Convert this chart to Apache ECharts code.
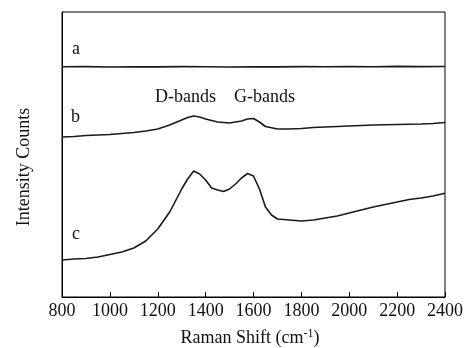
<!DOCTYPE html>
<html>
<head>
<meta charset="utf-8">
<script src="https://cdn.jsdelivr.net/npm/echarts@6/dist/echarts.min.js"></script>
<style>html,body{margin:0;padding:0;background:#fff}#c{width:466px;height:348px}</style>
</head>
<body>
<div id="c"></div>
<script>
// Raman shift (cm-1)
const xTicks = [800, 1000, 1200, 1400, 1600, 1800, 2000, 2200, 2400];
// Curve a (nearly flat)
const shiftA = [800, 900, 1000, 1100, 1200, 1300, 1400, 1500, 1600, 1700, 1800, 1900, 2000, 2100, 2200, 2300, 2400];
const intA   = [230.2, 230.4, 230.0, 230.3, 230.1, 230.4, 230.2, 230.0, 230.3, 230.1, 230.4, 230.2, 230.5, 230.3, 230.6, 230.4, 230.5];
// Curve b
const shiftB = [800, 850, 900, 950, 1000, 1050, 1100, 1150, 1200, 1250, 1300, 1325, 1350, 1375, 1400, 1450, 1500, 1550, 1575, 1600, 1625, 1650, 1700, 1750, 1800, 1850, 1900, 1950, 2000, 2100, 2200, 2300, 2350, 2400];
const intB   = [160, 160.5, 161.5, 162, 162.5, 163.5, 164.5, 166, 168, 172, 177, 179.5, 181, 180, 178, 175, 174, 176, 178, 178.5, 175, 170.5, 168, 168, 168.5, 169.5, 170, 170.5, 171, 172, 172.5, 173, 173.5, 174.5];
// Curve c
const shiftC = [800, 850, 900, 950, 1000, 1050, 1100, 1150, 1200, 1250, 1300, 1325, 1350, 1375, 1400, 1425, 1450, 1475, 1500, 1525, 1550, 1575, 1600, 1625, 1650, 1675, 1700, 1750, 1800, 1850, 1900, 1950, 2000, 2050, 2100, 2150, 2200, 2250, 2300, 2350, 2400];
const intC   = [37, 38, 38.5, 40, 42.5, 45, 49, 56, 68, 85, 108, 118, 126, 123, 117, 109, 107, 105.5, 108, 113, 119, 123.5, 121, 108, 90, 82, 78, 77, 76, 77, 79, 81, 84, 87, 90, 92.5, 95, 97.5, 99, 101, 103.7];

const pairs = (xs, ys) => xs.map((x, i) => [x, ys[i]]);
const FONT = '"Liberation Serif", "DejaVu Serif", serif';
const lineStyle = { color: '#1a1a1a', width: 1.6 };
const mk = (name, xs, ys) => ({ name, type: 'line', data: pairs(xs, ys), showSymbol: false, symbol: 'none', lineStyle, animation: false, silent: true });

const chart = echarts.init(document.getElementById('c'));
chart.setOption({
  animation: false,
  grid: { left: 62, top: 12, right: 20, bottom: 51, show: true, borderColor: '#000', borderWidth: 1, backgroundColor: 'transparent' },
  xAxis: {
    type: 'value', min: xTicks[0], max: xTicks[xTicks.length - 1], interval: 200,
    axisLine: { show: true, lineStyle: { color: '#000', width: 1 } },
    axisTick: { show: true, inside: true, length: 5, lineStyle: { color: '#000' } },
    axisLabel: { color: '#111', fontFamily: FONT, fontSize: 18, margin: 5, formatter: v => String(v) },
    splitLine: { show: false }
  },
  yAxis: {
    type: 'value', min: 0, max: 285,
    axisLine: { show: true, lineStyle: { color: '#000' } },
    axisTick: { show: false }, axisLabel: { show: false }, splitLine: { show: false }
  },
  series: [mk('a', shiftA, intA), mk('b', shiftB, intB), mk('c', shiftC, intC)],
  graphic: [
    { type: 'text', left: 72, top: 40, style: { text: 'a', font: '18px ' + FONT, fill: '#111' } },
    { type: 'text', left: 71, top: 108, style: { text: 'b', font: '18px ' + FONT, fill: '#111' } },
    { type: 'text', left: 72, top: 225, style: { text: 'c', font: '18px ' + FONT, fill: '#111' } },
    { type: 'text', left: 155, top: 88, style: { text: 'D-bands', font: '18px ' + FONT, fill: '#111' } },
    { type: 'text', left: 234, top: 88, style: { text: 'G-bands', font: '18px ' + FONT, fill: '#111' } },
    { type: 'text', x: 24, y: 167, rotation: Math.PI / 2, style: { text: 'Intensity Counts', font: '18px ' + FONT, fill: '#111', align: 'center', verticalAlign: 'middle' } },
    { type: 'text', x: 250, y: 338, style: {
        text: 'Raman Shift (cm{sup|-1})', font: '18px ' + FONT, fill: '#111', align: 'center', verticalAlign: 'middle',
        rich: { sup: { fontSize: 12, fontFamily: FONT, verticalAlign: 'top', padding: [0, 0, 8, 0], fill: '#111' } }
      } }
  ]
});
</script>
</body>
</html>
